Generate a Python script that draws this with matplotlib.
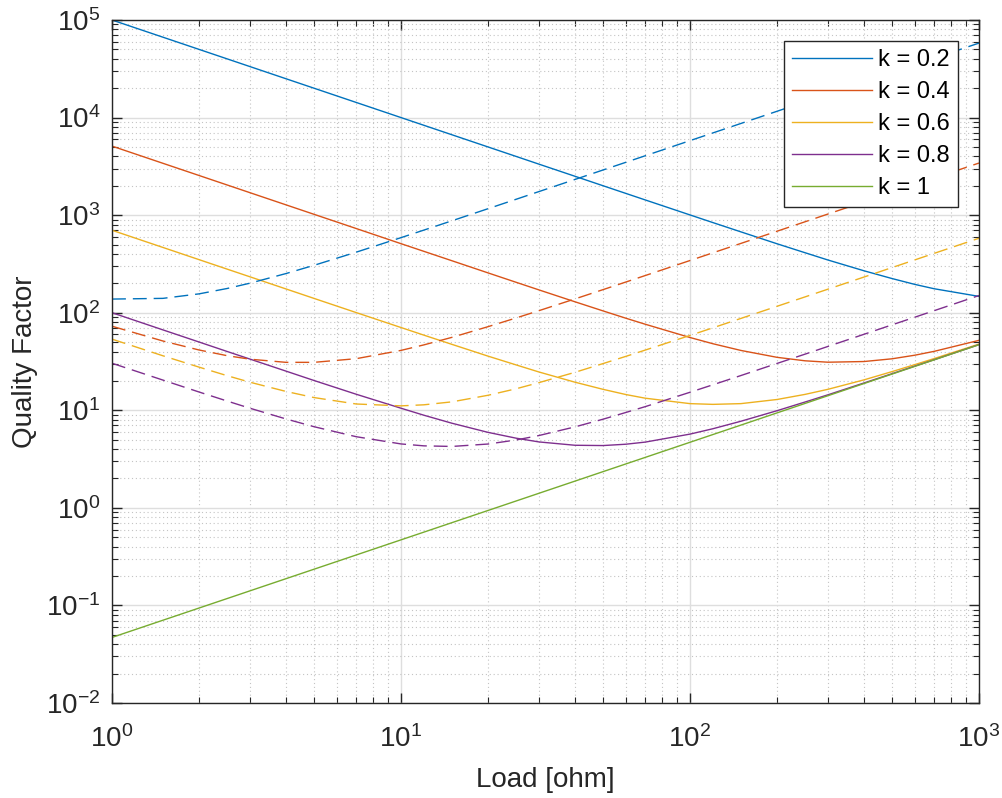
import matplotlib
matplotlib.use("Agg")
import matplotlib.pyplot as plt
from matplotlib.ticker import LogLocator, NullFormatter

plt.rcParams['font.family'] = ['Liberation Sans', 'DejaVu Sans']
plt.rcParams['mathtext.fontset'] = 'custom'
plt.rcParams['mathtext.rm'] = 'Liberation Sans'
plt.rcParams['mathtext.it'] = 'Liberation Sans:italic'
plt.rcParams['mathtext.bf'] = 'Liberation Sans:bold'
plt.rcParams['axes.unicode_minus'] = False

# load values [ohm]
load = [1, 1.5, 2, 2.5, 3, 4, 5, 7, 10, 12, 15, 20, 25, 30, 40, 50, 60, 70,
        100, 120, 150, 200, 250, 300, 400, 500, 600, 700, 1000]

# solid curves
q_02 = [100000, 66667, 50000, 40000, 33333, 25000, 20000, 14286, 10000, 8334, 6667,
        5000, 4001, 3333, 2502, 2002, 1669.5, 1432, 1005, 839, 674, 509, 412, 347,
        269, 224, 195, 176, 147]
q_04 = [5100, 3400, 2550, 2040, 1700, 1275, 1020, 729, 510, 425.6, 341, 256, 205.2,
        171.4, 129.4, 104.4, 87.8, 76.2, 55.7, 48.1, 41.05, 34.9, 32.15, 31.1, 31.6,
        33.7, 36.7, 40.2, 52.1]
q_06 = [700, 466.7, 350, 280, 233.5, 175.2, 140.2, 100.3, 70.5, 58.9, 47.4, 35.9,
        29.2, 24.7, 19.4, 16.4, 14.5, 13.3, 11.7, 11.5, 11.7, 12.9, 14.55, 16.4, 20.5,
        24.9, 29.4, 33.9, 47.7]
q_08 = [100, 66.7, 50.1, 40.1, 33.5, 25.2, 20.2, 14.6, 10.5, 8.9, 7.37, 5.94, 5.18,
        4.74, 4.38, 4.35, 4.49, 4.72, 5.70, 6.47, 7.72, 9.9, 12.15, 14.4, 19.05, 23.7,
        28.4, 33.0, 47.1]
q_10 = [0.047, 0.0705, 0.094, 0.1175, 0.141, 0.188, 0.235, 0.329, 0.47, 0.564, 0.705,
        0.94, 1.175, 1.41, 1.88, 2.35, 2.82, 3.29, 4.7, 5.64, 7.05, 9.4, 11.75, 14.1,
        18.8, 23.5, 28.2, 32.9, 47]

# dashed curves
d_02 = [138, 140.3, 156, 177, 200.7, 252, 306, 417.4, 588, 702.7, 875, 1164, 1453,
        1743, 2322, 2902, 3481, 4061, 5801, 6961, 8700, 11600, 14500, 17400, 23200,
        29000, 34800, 40600, 58000]
d_04 = [72.7, 51.3, 41.5, 36.3, 33.4, 31.0, 31.0, 33.8, 41.1, 46.8, 55.9, 71.9, 88.3,
        104.9, 138.5, 172.4, 206.4, 240.4, 342.7, 411, 513, 684, 855, 1026, 1368, 1710,
        2052, 2394, 3420]
d_06 = [53.6, 36.2, 27.7, 22.65, 19.4, 15.6, 13.5, 11.6, 11.1, 11.38, 12.2, 14.25,
        16.6, 19.2, 24.5, 30.1, 35.7, 41.4, 58.5, 70.0, 87.4, 116.3, 145.2, 174.2,
        232.1, 290.1, 348, 406, 580]
d_08 = [30.35, 20.4, 15.4, 12.45, 10.5, 8.15, 6.79, 5.36, 4.52, 4.32, 4.26, 4.51,
        4.96, 5.51, 6.76, 8.10, 9.5, 10.9, 15.3, 18.25, 22.7, 30.2, 37.6, 45.1, 60.1,
        75.1, 90, 105, 150]

labels = ['k = 0.2', 'k = 0.4', 'k = 0.6', 'k = 0.8', 'k = 1']
colors = ['#0072BD', '#D95319', '#EDB120', '#7E2F8E', '#77AC30']

fig = plt.figure(figsize=(10.03, 7.98), dpi=100)
ax = fig.add_axes([112/1003, 95/798, 867/1003, 683/798])

for q, c, lab in zip([q_02, q_04, q_06, q_08, q_10], colors, labels):
    ax.plot(load, q, color=c, lw=1.0, label=lab)
for d, c in zip([d_02, d_04, d_06, d_08], colors):
    ax.plot(load, d, color=c, lw=1.0, dashes=(10, 5))

ax.set_xscale('log')
ax.set_yscale('log')
ax.set_xlim(1, 1000)
ax.set_ylim(1e-2, 1e5)

ax.yaxis.set_major_locator(LogLocator(base=10, numticks=20))
ax.yaxis.set_minor_locator(LogLocator(base=10, subs=range(2, 10), numticks=20))
ax.yaxis.set_minor_formatter(NullFormatter())
ax.xaxis.set_minor_formatter(NullFormatter())

ax.grid(True, which='major', color='#dedede', lw=1.0, ls='-')
ax.grid(True, which='minor', color='#c4c4c4', lw=0.8, ls=(0, (1, 2.5)))
ax.set_axisbelow(True)

ax.tick_params(which='both', direction='in', top=True, right=True,
               colors='#262626', labelsize=20)
ax.tick_params(which='major', length=7, width=1.0)
ax.tick_params(which='minor', length=4, width=0.8)
ax.tick_params(axis='x', pad=16)
ax.tick_params(axis='y', pad=8.5)
for s in ax.spines.values():
    s.set_color('#262626')
    s.set_linewidth(1.0)

ax.set_xlabel('Load [ohm]', fontsize=20, color='#262626', labelpad=10)
ax.set_ylabel('Quality Factor', fontsize=20, color='#262626', labelpad=6)

leg = ax.legend(loc='upper right', bbox_to_anchor=(958/1003, 1 - 41/798),
                bbox_transform=fig.transFigure, borderaxespad=0,
                fancybox=False, framealpha=1, edgecolor='#262626',
                fontsize=17, handlelength=3.4, labelspacing=0.42,
                borderpad=0.35, handletextpad=0.25)
leg.get_frame().set_linewidth(1.0)

fig.savefig('out.png', dpi=100)
